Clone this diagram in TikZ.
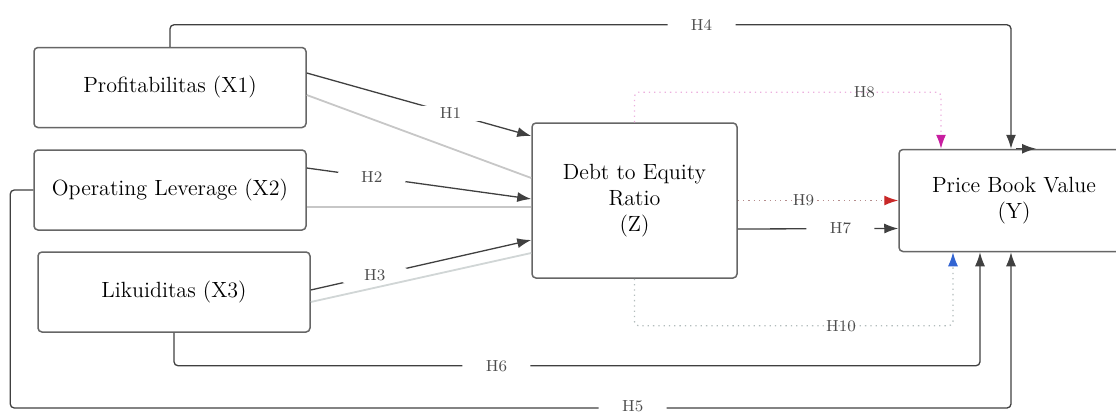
\documentclass[tikz,border=0pt]{standalone}
\usepackage{xcolor}
\usepackage{tikz}
\usetikzlibrary{shapes.geometric}
\usetikzlibrary{arrows.meta,arrows}
\definecolor{dotred}{RGB}{200,40,40}
\definecolor{dotblue}{RGB}{50,100,210}
\definecolor{dotpink}{RGB}{200,30,160}
\tikzstyle{block} = [rectangle, draw=black!60, line width=0.75pt, fill=white,
    text centered, align=center, rounded corners=2pt, minimum width=136pt,
    minimum height=40pt, font=\fontsize{11}{13}\selectfont]
\tikzstyle{line} = [draw=black!75, line width=0.65pt, rounded corners=2pt,
    -{Latex[length=7pt,width=5pt]}]
\tikzstyle{ghost} = [draw=black!22, line width=0.9pt]
\tikzstyle{hlab} = [fill=white, text=black!70, font=\footnotesize,
    minimum width=34pt, inner sep=1pt, anchor=center]
\tikzstyle{hlabon} = [text=black!70, font=\footnotesize, inner sep=1pt, anchor=center]

\begin{document}
\begin{tikzpicture}[node distance = 2cm]
  \useasboundingbox (0,0) rectangle (558pt,-206pt);
  % nodes
  \node [block] (prof) at (85pt,-43.75pt) {Profitabilitas (X1)};
  \node [block, below of = prof, node distance = 51.25pt] (opr) {Operating Leverage (X2)};
  \node [block, below of = opr, node distance = 51pt, xshift=2pt] (lik) {Likuiditas (X3)};
  \node [block, right of = opr, node distance = 232.25pt, yshift=-5.25pt,
         minimum width=102.5pt, minimum height=77.5pt] (der) {Debt to Equity\\Ratio\\(Z)};
  \node [block, right of = der, node distance = 189.75pt,
         minimum width=115pt, minimum height=51pt] (pbv) {Price Book Value\\(Y)};
  % edges
  \path [line] ([yshift=7.25pt]prof.east) -- node[hlab, pos=0.64] {H1} ([yshift=32.25pt]der.west);
  \path [line] ([yshift=11pt]opr.east) -- node[hlab, pos=0.29] {H2} ([yshift=0.75pt]der.west);
  \path [line] ([yshift=1pt]lik.east) -- node[hlab, pos=0.29] {H3} ([yshift=-19.75pt]der.west);
  \path [line] (prof.north) -- ++(0,11pt) -| node[hlab, pos=0.316] {H4} ([xshift=-1.5pt]pbv.north);
  \path [line] (opr.west) -- ++(-11.5pt,0) -- ++(0,-109pt) -| node[hlab, pos=0.311, yshift=1pt] {H5} ([xshift=-1.5pt]pbv.south);
  \path [line] (lik.south) -- ++(0,-16.5pt) -| node[hlab, pos=0.2] {H6} ([xshift=-17pt]pbv.south);
  \path [line] ([yshift=-14.25pt]der.east) -- node[hlab, pos=0.64] {H7} ([yshift=-14pt]pbv.west);
  \path [line, draw=dotpink!35, dotted, -{Latex[length=7pt,width=5pt,color=dotpink]}]
        (der.north) -- ++(0,15pt) -| node[hlabon, pos=0.375] {H8} ([xshift=-36.5pt]pbv.north);
  \path [line, draw=red!35!black!45, dotted, -{Latex[length=7pt,width=5pt,color=dotred]}]
        (der.east) -- node[hlabon, pos=0.41] {H9} (pbv.west);
  \path [line, draw=teal!25!black!30, dotted, -{Latex[length=7pt,width=5pt,color=dotblue]}]
        (der.south) -- ++(0,-23.5pt) -| node[hlabon, pos=0.324] {H10} ([xshift=-30.5pt]pbv.south);
  \path [line] ([xshift=1pt]pbv.north) -- ([xshift=11pt]pbv.north);
  % faint lines
  \path [ghost] ([yshift=-3.75pt]prof.east) -- ([yshift=11.25pt]der.west);
  \path [ghost] ([yshift=-8.5pt]opr.east) -- ([yshift=-3.25pt]der.west);
  \path [ghost, draw=teal!20!black!18] ([yshift=-5pt]lik.east) -- ([yshift=-26.25pt]der.west);
\end{tikzpicture}
\end{document}
